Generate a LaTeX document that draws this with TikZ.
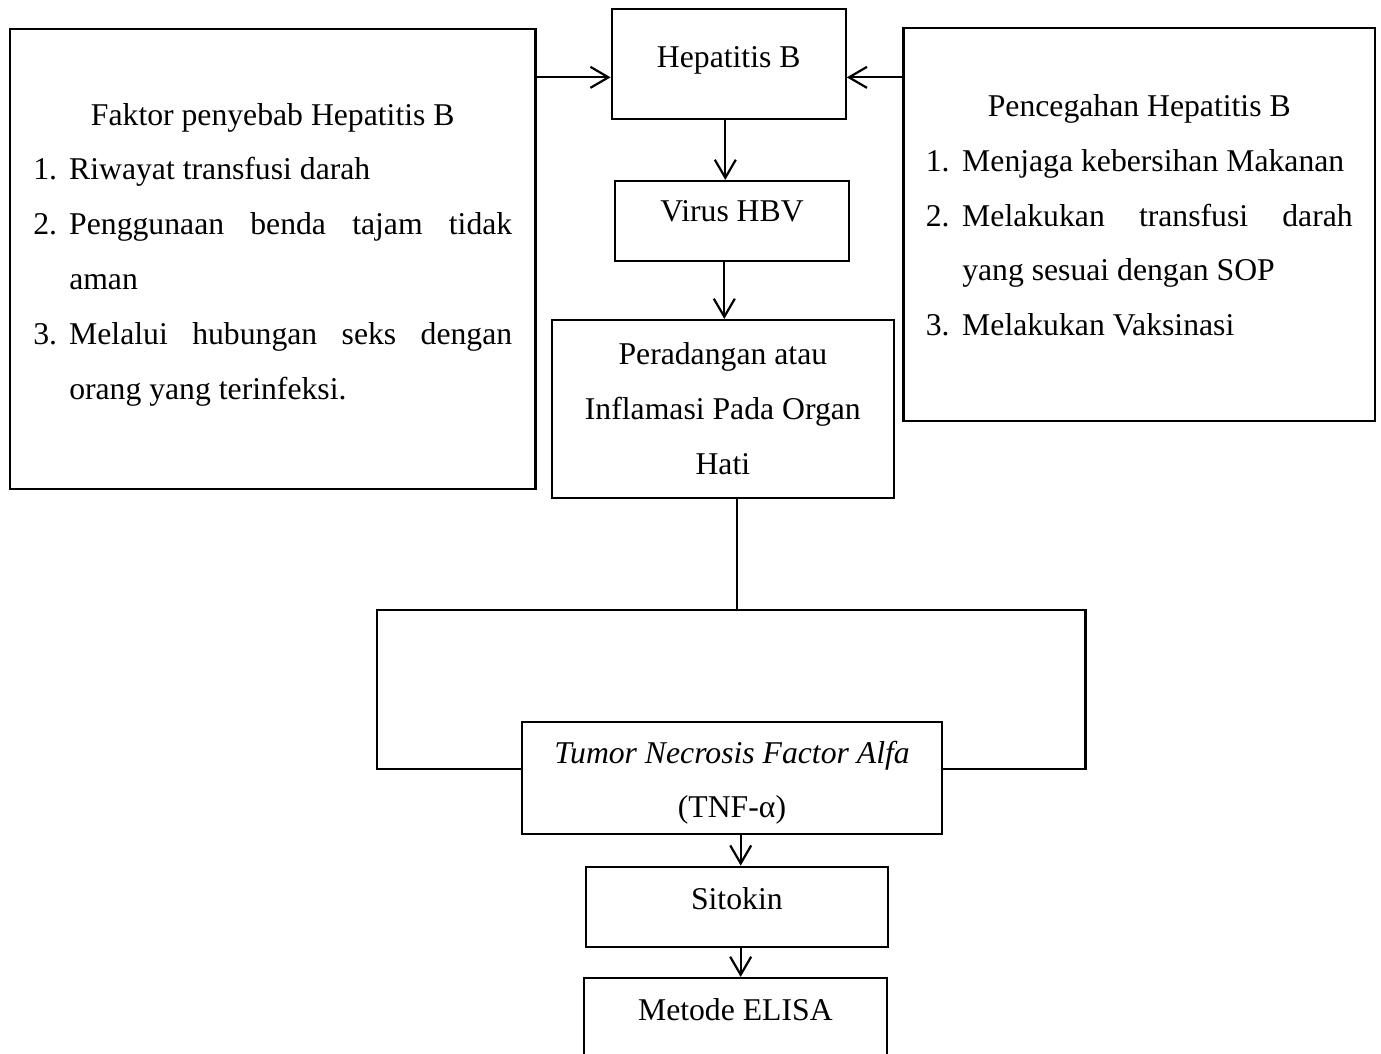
\documentclass[tikz,border=0pt]{standalone}
\usepackage{fontspec}
\setmainfont{Liberation Serif}
\usetikzlibrary{arrows.meta}

\begin{document}
\begin{tikzpicture}[x=0.5pt,y=-0.5pt,
            box/.style={draw,line width=1.1pt,inner sep=0pt,font=\fontsize{15.85pt}{27.4pt}\selectfont},
            arr/.style={-{Straight Barb[length=9pt,width=10.5pt]},line width=1.1pt},
            ln/.style={line width=1.1pt}]
            \useasboundingbox (0,0) rectangle (1381,1054);
            % kotak kiri dan kanan
            \node[box,minimum width=262.75pt,minimum height=229.85pt,align=left] (faktor) at (272.75,259.15) {%
                \makebox[239.5pt]{Faktor penyebab Hepatitis B}\\
                \makebox[18pt][l]{1.}Riwayat transfusi darah\\
                \makebox[18pt][l]{2.}\makebox[221.5pt][s]{Penggunaan benda tajam tidak}\\
                \makebox[18pt][l]{}aman\\
                \makebox[18pt][l]{3.}\makebox[221.5pt][s]{Melalui hubungan seks dengan}\\
                \makebox[18pt][l]{}orang yang terinfeksi.\rule[-8pt]{0pt}{1pt}};
            \node[box,minimum width=235.75pt,minimum height=196.5pt,align=left] (cegah) at (1139.25,224.2) {%
                \makebox[213.5pt]{Pencegahan Hepatitis B}\\
                \makebox[18.25pt][l]{1.}Menjaga kebersihan Makanan\\
                \makebox[18.25pt][l]{2.}\makebox[195.25pt][s]{Melakukan transfusi darah}\\
                \makebox[18.25pt][l]{}yang sesuai dengan SOP\\
                \makebox[18.25pt][l]{3.}Melakukan Vaksinasi\rule[-9pt]{0pt}{1pt}};
            % alur tengah
            \node[box,minimum width=117pt,text height=29.2pt,text depth=25.65pt] (hep) at (728.7,64.15) {Hepatitis B};
            \node[box,minimum width=117.3pt,text height=20.35pt,text depth=19.5pt] (hbv) at (732,220.85) {Virus HBV};
            \node[box,minimum width=171.15pt,minimum height=88.85pt,align=center] (radang) at (722.85,408.85) {Peradangan atau\\Inflamasi Pada Organ\\Hati};
            \node[box,minimum width=210pt,minimum height=56.2pt,align=center] (tnf) at (732,777.8) {\rule{0pt}{16pt}\textit{Tumor Necrosis Factor Alfa}\\(TNF-α)};
            \node[box,minimum width=150.85pt,text height=21.15pt,text depth=18.85pt] (sitokin) at (736.85,906.7) {Sitokin};
            \node[box,minimum width=151.35pt,text height=21pt,text depth=21pt] (elisa) at (735.35,1020) {Metode ELISA};
            \coordinate (kl) at (377,610);
            \coordinate (km) at (736.6,610);
            \coordinate (kr) at (1085.4,610);
            % panah
            \draw[arr] ([yshift=-6.6pt]hep.west -| faktor.east) -- ([yshift=-6.6pt]hep.west);
            \draw[arr] ([yshift=-6.6pt]hep.east -| cegah.west) -- ([yshift=-6.6pt]hep.east);
            \draw[arr] ([xshift=-1.7pt]hep.south) -- ([xshift=-1.7pt]hep.south |- hbv.north);
            \draw[arr] ([xshift=-3.85pt]hbv.south) -- ([xshift=-3.85pt]hbv.south |- radang.north);
            \draw[ln] (radang.south -| km) -- (km);
            \draw[ln] ([yshift=4.4pt]tnf.west) -| (kl) -- (kr) |- ([yshift=4.4pt]tnf.east);
            \draw[arr] ([xshift=4.35pt]tnf.south) -- ([xshift=4.35pt]tnf.south |- sitokin.north);
            \draw[arr] ([xshift=1.9pt]sitokin.south) -- ([xshift=1.9pt]sitokin.south |- elisa.north);
        \end{tikzpicture}
\end{document}
